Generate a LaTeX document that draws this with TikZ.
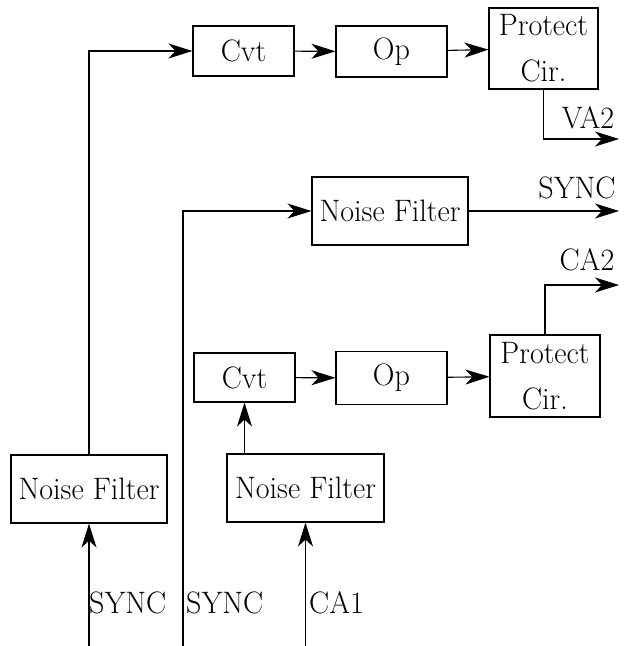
\documentclass[tikz,border=0pt]{standalone}
\usepackage{fontspec}
\usepackage{graphicx}
\usetikzlibrary{arrows.meta}

\newcommand{\cond}[1]{\scalebox{0.97}[1]{#1}}
\tikzset{
  blk/.style={draw, line width=1.1pt, inner sep=0pt, align=center, font=\fontsize{31}{46}\selectfont},
  sig/.style={line width=1.1pt, -{Stealth[length=24pt, width=15pt, inset=7pt]}},
  lbl/.style={font=\fontsize{31}{38}\selectfont, inner sep=0pt},
}

\begin{document}
\begin{tikzpicture}[x=1pt, y=-1pt]
    \useasboundingbox (0,0) rectangle (624,646);
    % upper chain
    \node[blk, minimum width=101pt, minimum height=50pt] (cvtA) at (243.5,51) {\cond{Cvt}};
    \node[blk, minimum width=111pt, minimum height=51pt] (opA) at (391.5,51.5) {\cond{Op}};
    \node[blk, minimum width=109pt, minimum height=81pt] (protA) at (543.5,48.5) {\cond{Protect}\\\cond{Cir.}};
    % middle filter
    \node[blk, minimum width=156pt, minimum height=68pt] (nfMid) at (390,211) {\cond{Noise Filter}};
    % lower chain
    \node[blk, minimum width=101pt, minimum height=49pt] (cvtB) at (244.5,377.5) {\cond{Cvt}};
    \node[blk, minimum width=111pt, minimum height=53pt] (opB) at (391.5,378) {\cond{Op}};
    \node[blk, minimum width=110pt, minimum height=82pt] (protB) at (545,376) {\cond{Protect}\\\cond{Cir.}};
    % input filters
    \node[blk, minimum width=156pt, minimum height=68pt] (nfL) at (89,489) {\cond{Noise Filter}};
    \node[blk, minimum width=157pt, minimum height=68pt] (nfB) at (305.5,488) {\cond{Noise Filter}};

    \coordinate (syncIn) at (183,646);
    \coordinate (va2) at (619,139);
    \coordinate (syncOut) at (619,211);
    \coordinate (ca2) at (619,285);

    \draw[sig] (nfL.south |- syncIn) -- (nfL.south);
    \draw[sig] (nfB.south |- syncIn) -- (nfB.south);
    \draw[sig] (nfL.north) |- (cvtA.west);
    \draw[sig] (cvtA) -- (opA);
    \draw[sig] (opA) -- (protA);
    \draw[sig] (protA.south) |- (va2);
    \draw[sig] (syncIn) |- (nfMid.west);
    \draw[sig] (nfMid.east) -- (syncOut);
    \draw[sig] (nfB.north -| cvtB.south) -- (cvtB.south);
    \draw[sig] (cvtB) -- (opB);
    \draw[sig] (opB) -- (protB);
    \draw[sig] (protB.north) |- (ca2);

    \node[lbl] (va2Lbl) at (588,118) {\cond{VA2}};
    \node[lbl] (syncOutLbl) at (577,188) {\cond{SYNC}};
    \node[lbl] (ca2Lbl) at (587,260) {\cond{CA2}};
    \node[lbl, anchor=west] (syncLblA) at (89,603) {\cond{SYNC}};
    \node[lbl, anchor=west] (syncLblB) at (186,603) {\cond{SYNC}};
    \node[lbl, anchor=west] (ca1Lbl) at (309,603) {\cond{CA1}};
\end{tikzpicture}
\end{document}
